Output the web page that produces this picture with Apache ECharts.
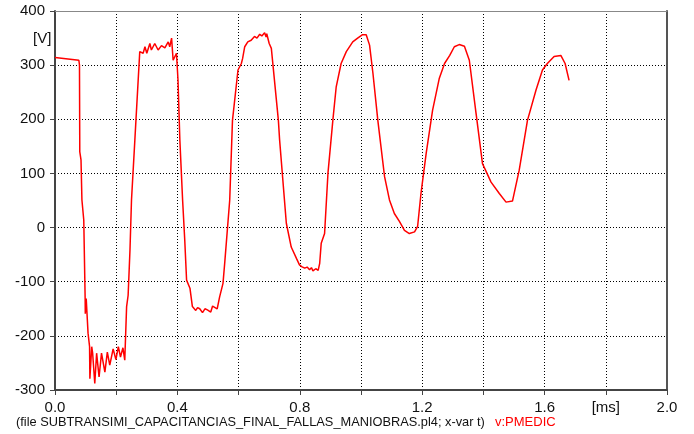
<!DOCTYPE html>
<html>
<head>
<meta charset="utf-8">
<script src="https://cdn.jsdelivr.net/npm/echarts@6/dist/echarts.min.js"></script>
<style>
html,body{margin:0;padding:0;background:#fff;}
#chart{width:694px;height:434px;}
</style>
</head>
<body>
<div id="chart"></div>
<script>
// time in ms
var timeMs = [
0.000,0.078,0.080,0.081,0.085,0.088,0.094,0.0985,0.099,0.102,0.108,0.113,0.114,0.120,0.123,0.130,0.136,0.144,0.152,0.163,0.171,0.179,0.190,0.199,0.207,0.214,0.222,0.228,0.234,0.239,0.245,0.250,0.261,
0.277,0.281,0.288,0.294,0.300,0.310,0.315,0.326,0.337,0.348,0.359,0.370,0.375,0.381,0.386,0.392,0.397,0.402,0.408,
0.417,0.424,0.430,0.441,0.449,0.460,0.466,0.473,0.482,0.490,0.498,0.509,0.515,0.520,0.530,0.538,0.549,0.555,0.560,0.571,
0.580,0.598,0.609,0.613,0.620,0.630,0.641,0.652,0.660,0.669,0.676,0.685,0.690,0.692,0.700,0.707,0.730,
0.734,0.756,0.772,0.789,0.799,0.806,0.816,0.824,0.832,0.838,0.843,0.852,0.860,0.865,0.870,0.881,0.892,0.908,0.919,0.935,0.952,0.973,0.989,1.004,1.010,1.017,1.028,1.039,1.055,
1.077,1.093,1.109,1.126,1.142,1.158,1.175,1.185,1.196,1.213,1.234,1.256,1.273,1.290,1.305,1.321,1.338,1.354,1.376,1.397,1.425,1.452,1.474,1.495,1.517,1.544,1.572,1.593,1.609,1.631,1.653,1.667,1.680
];
// voltage in V (v:PMEDIC)
var voltageV = [
314,309,300,140,125,51,14,-131,-159,-131,-195,-220,-279,-220,-232,-288,-232,-276,-232,-267,-230,-254,-224,-244,-220,-239,-222,-245,-146,-125,-42,51,162,
325,322,322,334,322,340,328,340,328,336,332,343,334,350,309,312,322,272,162,
51,-23,-97,-112,-146,-153,-148,-150,-157,-150,-152,-156,-145,-146,-150,-128,-103,-63,-60,51,
198,291,303,312,334,343,346,353,350,357,354,360,352,358,340,331,198,
162,8,-36,-57,-69,-72,-75,-73,-78,-74,-80,-76,-79,-66,-29,-11,100,198,260,303,325,343,350,356,358,356,337,285,198,
94,51,26,11,-5,-11,-8,2,63,137,217,276,303,318,334,338,335,309,211,118,84,63,47,49,106,198,254,291,303,316,318,303,272
];
var xTickLabels = {"0.0":"0.0","0.4":"0.4","0.8":"0.8","1.2":"1.2","1.6":"1.6","1.8":"[ms]","2.0":"2.0"};
var yUnitLabel = "[V]";
var footerText = "(file SUBTRANSIMI_CAPACITANCIAS_FINAL_FALLAS_MANIOBRAS.pl4; x-var t)";
var seriesLabel = "v:PMEDIC";

var data = timeMs.map(function(t,i){return [t, voltageV[i]];});
var chart = echarts.init(document.getElementById('chart'), null, {renderer:'canvas'});
var font = 'Arial, "Liberation Sans", sans-serif';
var grid = {left:55, right:27, top:11, bottom:44};
chart.setOption({
  animation:false,
  backgroundColor:'#fff',
  grid: grid,
  xAxis: [{
    type:'value', min:0, max:2.0, interval:0.2,
    axisLine:{show:true, onZero:false, lineStyle:{color:'#444', width:2}},
    axisTick:{show:true, inside:false, length:5, lineStyle:{color:'#444', width:1}},
    axisLabel:{color:'#111', fontSize:15, fontFamily:font, margin:10,
      formatter:function(v){ var k=v.toFixed(1); return xTickLabels[k]!==undefined?xTickLabels[k]:''; }},
    splitLine:{show:true, lineStyle:{color:'#000', width:1, type:[1,2]}}
  },{
    type:'value', min:0, max:2.0, position:'top',
    axisLine:{show:true, onZero:false, lineStyle:{color:'#888', width:1}},
    axisTick:{show:false}, axisLabel:{show:false}, splitLine:{show:false}
  }],
  yAxis: [{
    type:'value', min:-300, max:400, interval:100,
    axisLine:{show:true, onZero:false, lineStyle:{color:'#444', width:2}},
    axisTick:{show:true, inside:false, length:5, lineStyle:{color:'#444', width:1}},
    axisLabel:{color:'#111', fontSize:15, fontFamily:font, margin:10},
    splitLine:{show:true, lineStyle:{color:'#000', width:1, type:[1,2]}}
  },{
    type:'value', min:-300, max:400, position:'right',
    axisLine:{show:true, onZero:false, lineStyle:{color:'#555', width:2}},
    axisTick:{show:false}, axisLabel:{show:false}, splitLine:{show:false}
  }],
  series:[{
    type:'line', data:data, xAxisIndex:0, yAxisIndex:0,
    showSymbol:false, symbol:'none',
    lineStyle:{color:'#ff0000', width:1.5},
    z:5
  }],
  graphic:[
    {type:'text', left:33, top:31, style:{text:yUnitLabel, fill:'#111', font:'15px '+font}},
    {type:'text', left:16, top:416, style:{text:footerText, fill:'#111', font:'12.8px '+font}},
    {type:'text', left:495, top:416, style:{text:seriesLabel, fill:'#ff0000', font:'13px '+font}}
  ]
});
</script>
</body>
</html>
